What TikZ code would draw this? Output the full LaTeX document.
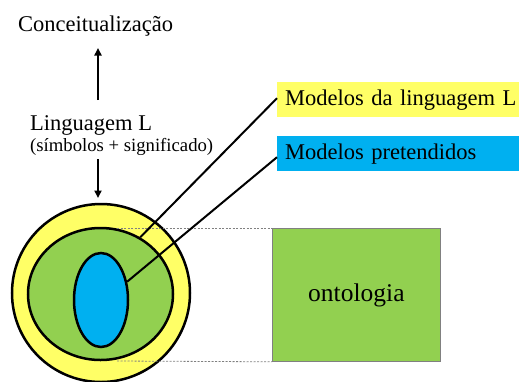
\documentclass[tikz,border=0pt]{standalone}
\usepackage{fontspec}
\setmainfont{Liberation Serif}
\usetikzlibrary{arrows.meta,shapes.geometric}
\definecolor{ylw}{HTML}{FFFF66}
\definecolor{grn}{HTML}{92D050}
\definecolor{blu}{HTML}{00B0F0}
\tikzset{
  bigtxt/.style={font=\fontsize{22.5}{27}\selectfont, inner sep=0pt},
  smalltxt/.style={font=\fontsize{18.7}{22}\selectfont, inner sep=0pt},
  ring/.style={ellipse, draw=black, line width=2.5pt, inner sep=0pt},
  arr/.style={line width=2pt, -{Triangle[width=7pt,length=7.5pt]}},
  link/.style={line width=2pt},
  guide/.style={gray, line width=0.8pt, dash pattern=on 2pt off 1.5pt},
  labelbox/.style={anchor=north west, minimum height=35pt, text width=250pt,
     inner xsep=8pt, inner ysep=0pt, align=left, font=\fontsize{22.5}{27}\selectfont}
}
\begin{document}
\begin{tikzpicture}[x=1pt,y=-1pt]
\clip (0,0) rectangle (519,381);
\useasboundingbox (0,0) rectangle (519,381);

% texts
\node[bigtxt, anchor=base west] (conc) at (18,31) {Conceitualização};
\node[bigtxt, anchor=base west] (ling) at (30,130) {Linguagem L};
\node[smalltxt, anchor=base west] (sym) at (30,151) {(símbolos + significado)};

% circles
\node[ring, fill=ylw, minimum width=178pt, minimum height=178pt] (outer) at (101,293) {};
\node[ring, fill=grn, minimum width=145pt, minimum height=132pt] (mid) at (100.5,294) {};
\node[ring, fill=blu, minimum width=54pt, minimum height=94pt] (inner) at (101,300) {};

% ontology box
\node[draw=gray, line width=0.8pt, fill=grn, anchor=north west, minimum width=168pt,
      minimum height=133pt, font=\fontsize{25.5}{30}\selectfont] (onto) at (272,228) {ontologia};

% label boxes
\node[labelbox, fill=ylw] (lab1) at (277,82) {Modelos da linguagem L};
\node[labelbox, fill=blu] (lab2) at (277,136) {Modelos pretendidos};

% arrows
\coordinate (a1s) at (98,100);
\coordinate (a1e) at (98,48);
\coordinate (a2s) at (98,159);
\coordinate (a2e) at (98,198);
\draw[arr] (a1s) -- (a1e);
\draw[arr] (a2s) -- (a2e);

% guide lines
\coordinate (g1) at (117,228);
\coordinate (g2) at (117,361);
\draw[guide] (g1) -- (onto.north west);
\draw[guide] (g2) -- (onto.south west);

% connectors
\draw[link] ([yshift=1.5pt]lab1.west) -- (mid.55);
\draw[link] ([yshift=-3.5pt]lab2.west) -- (inner.35);
\end{tikzpicture}
\end{document}
